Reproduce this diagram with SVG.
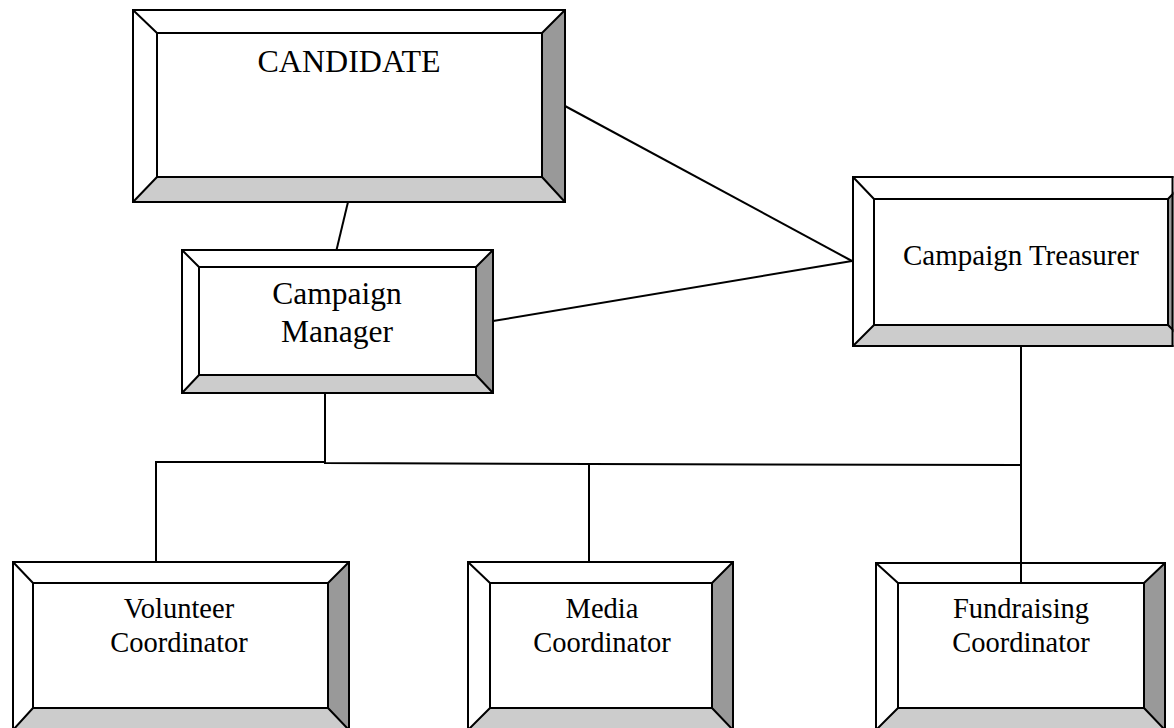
<svg xmlns="http://www.w3.org/2000/svg" width="1174" height="728" viewBox="0 0 1174 728">
<style>
.w{fill:#fff}
.r{fill:#999}
.g{fill:#ccc}
.o{fill:none;stroke:#000;stroke-width:2}
.t{font-family:"Liberation Serif","Times New Roman",serif;fill:#000;text-anchor:middle}
.c{fill:none;stroke:#000;stroke-width:2}
</style>
<defs>
<clipPath id="clipR"><rect x="0" y="0" width="1173.5" height="728"/></clipPath>
</defs>
<rect width="1174" height="728" fill="#fff"/>
<g id="candidate">
<rect class="w" x="133" y="10" width="432" height="192"/>
<polygon class="r" points="565,10 565,202 542,177 542,33"/>
<polygon class="g" points="133,202 157,177 542,177 565,202"/>
<rect class="o" x="133" y="10" width="432" height="192"/>
<rect class="o" x="157" y="33" width="385" height="144"/>
<path class="o" d="M133,10 L157,33 M565,10 L542,33 M133,202 L157,177 M565,202 L542,177"/>
<text class="t" x="349" y="72" font-size="32">CANDIDATE</text>
</g>
<g id="manager">
<rect class="w" x="182" y="250" width="311" height="143"/>
<polygon class="r" points="493,250 493,393 476,375 476,267"/>
<polygon class="g" points="182,393 199,375 476,375 493,393"/>
<rect class="o" x="182" y="250" width="311" height="143"/>
<rect class="o" x="199" y="267" width="277" height="108"/>
<path class="o" d="M182,250 L199,267 M493,250 L476,267 M182,393 L199,375 M493,393 L476,375"/>
<text class="t" x="337" y="304" font-size="31.5">Campaign</text>
<text class="t" x="337" y="342" font-size="31.5">Manager</text>
</g>
<g id="treasurer">
<g clip-path="url(#clipR)">
<rect class="w" x="853" y="177" width="336" height="169"/>
<polygon class="r" points="1189,177 1189,346 1168,325 1168,199"/>
<polygon class="g" points="853,346 874,325 1168,325 1189,346"/>
<rect class="o" x="853" y="177" width="336" height="169"/>
<rect class="o" x="874" y="199" width="294" height="126"/>
<path class="o" d="M853,177 L874,199 M1189,177 L1168,199 M853,346 L874,325 M1189,346 L1168,325"/>
</g>
<line class="c" x1="1172.5" y1="176" x2="1172.5" y2="347"/>
<text class="t" x="1021" y="265" font-size="29">Campaign Treasurer</text>
</g>
<g id="volunteer">
<rect class="w" x="13" y="562" width="336" height="168"/>
<polygon class="r" points="349,562 349,730 328,708 328,583"/>
<polygon class="g" points="13,730 33,708 328,708 349,730"/>
<rect class="o" x="13" y="562" width="336" height="168"/>
<rect class="o" x="33" y="583" width="295" height="125"/>
<path class="o" d="M13,562 L33,583 M349,562 L328,583 M13,730 L33,708 M349,730 L328,708"/>
<text class="t" x="179" y="618" font-size="28.5">Volunteer</text>
<text class="t" x="179" y="652" font-size="28.5">Coordinator</text>
</g>
<g id="media">
<rect class="w" x="468" y="562" width="265" height="168"/>
<polygon class="r" points="733,562 733,730 712,708 712,583"/>
<polygon class="g" points="468,730 490,708 712,708 733,730"/>
<rect class="o" x="468" y="562" width="265" height="168"/>
<rect class="o" x="490" y="583" width="222" height="125"/>
<path class="o" d="M468,562 L490,583 M733,562 L712,583 M468,730 L490,708 M733,730 L712,708"/>
<text class="t" x="602" y="618" font-size="28.5">Media</text>
<text class="t" x="602" y="652" font-size="28.5">Coordinator</text>
</g>
<g id="fundraising">
<rect class="w" x="876" y="563" width="289" height="167"/>
<polygon class="r" points="1165,563 1165,730 1144,708 1144,583"/>
<polygon class="g" points="876,730 898,708 1144,708 1165,730"/>
<rect class="o" x="876" y="563" width="289" height="167"/>
<rect class="o" x="898" y="583" width="246" height="125"/>
<path class="o" d="M876,563 L898,583 M1165,563 L1144,583 M876,730 L898,708 M1165,730 L1144,708"/>
<text class="t" x="1021" y="618" font-size="28.5">Fundraising</text>
<text class="t" x="1021" y="652" font-size="28.5">Coordinator</text>
</g>
<g id="connectors">
<line class="c" x1="348" y1="202" x2="336.5" y2="250"/>
<line class="c" x1="565" y1="106" x2="852" y2="261"/>
<line class="c" x1="493" y1="321" x2="852" y2="261"/>
<polyline class="c" points="325,393 325,463 589,464 1021,465"/>
<polyline class="c" points="156,562 156,462 325,462"/>
<line class="c" x1="589" y1="464" x2="589" y2="562"/>
<line class="c" x1="1021" y1="346" x2="1021" y2="584"/>
</g>
</svg>
